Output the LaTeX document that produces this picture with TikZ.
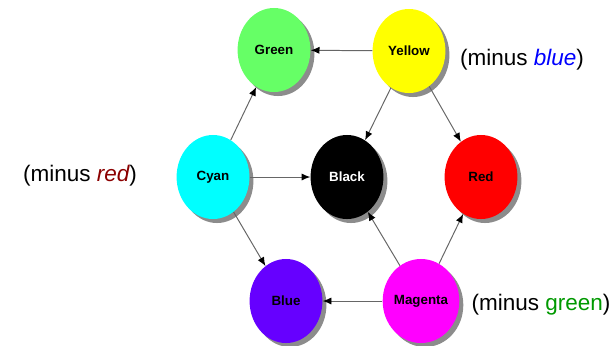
\documentclass[tikz,border=0pt]{standalone}
\usepackage{fontspec}
\setmainfont{Liberation Sans}
\usetikzlibrary{arrows.meta,shapes.geometric,shadows}
\definecolor{inkgreen}{HTML}{66FF66}
\definecolor{inkyellow}{HTML}{FFFF00}
\definecolor{inkcyan}{HTML}{00FFFF}
\definecolor{inkred}{HTML}{FF0000}
\definecolor{inkblue}{HTML}{6600FF}
\definecolor{inkmagenta}{HTML}{FF00FF}
\definecolor{wordblue}{HTML}{0000FF}
\definecolor{wordred}{HTML}{8B0000}
\definecolor{wordgreen}{HTML}{009900}

\begin{document}
\begin{tikzpicture}[x=0.025cm,y=-0.025cm,
	ink/.style={ellipse, minimum width=1.82cm, minimum height=2.1cm, inner sep=0pt,
		font=\fontsize{9.5}{10}\selectfont\bfseries,
		drop shadow={fill=black!45, opacity=1, shadow xshift=0.1cm, shadow yshift=-0.1cm}},
	mix/.style={draw=black!60, line width=0.7pt, -{Latex[color=black,length=2.2mm,width=1.8mm]}},
	note/.style={font=\fontsize{16}{18}\selectfont}]
			%%%%% START %%%%%
			\useasboundingbox (0, 0) rectangle (614, 345);
			
			\node[ink, fill=inkgreen] (green) at (274, 50) {Green};
			\node[ink, fill=inkyellow] (yellow) at (409, 51) {Yellow};
			\node[ink, fill=inkcyan] (cyan) at (213, 177) {Cyan};
			\node[ink, fill=black, text=white] (black) at (347, 177) {Black};
			\node[ink, fill=inkred] (red) at (481, 177) {Red};
			\node[ink, fill=inkblue] (blue) at (286, 301) {Blue};
			\node[ink, fill=inkmagenta] (magenta) at (421, 301) {Magenta};
			
			\draw[mix] (yellow) -- (green);
			\draw[mix] (cyan) -- (green);
			\draw[mix] (yellow) -- (black);
			\draw[mix] (yellow) -- (red);
			\draw[mix] (cyan) -- (black);
			\draw[mix] (cyan) -- (blue);
			\draw[mix] (magenta) -- (black);
			\draw[mix] (magenta) -- (red);
			\draw[mix] (magenta) -- (blue);
			
			\node[note] (minusblue) at (522, 60) {(minus \textcolor{wordblue}{\itshape blue})};
			\node[note] (minusred) at (80, 176) {(minus \textcolor{wordred}{\itshape red})};
			\node[note] (minusgreen) at (541, 305) {(minus \textcolor{wordgreen}{green})};
			%%%%% END %%%%%
\end{tikzpicture}
\end{document}
